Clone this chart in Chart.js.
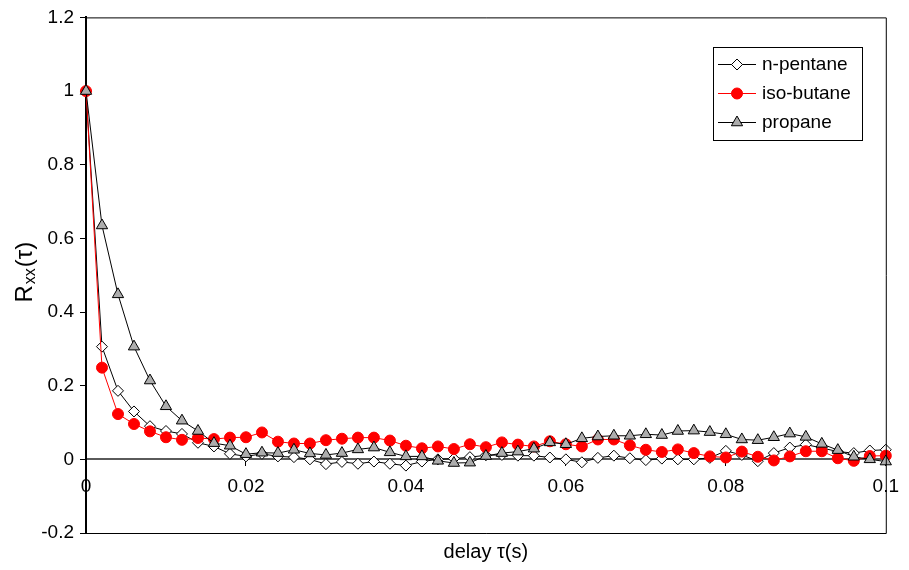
<!DOCTYPE html>
<html>
<head>
<meta charset="utf-8">
<script src="https://cdn.jsdelivr.net/npm/chart.js@4/dist/chart.umd.min.js"></script>
<style>
  html, body { margin: 0; padding: 0; background: #fff; }
  canvas { display: block; }
</style>
</head>
<body>
<canvas id="c" width="909" height="570"></canvas>
<script>
// Delay values (s)
const delays = [
  0, 0.002, 0.004, 0.006, 0.008, 0.010, 0.012, 0.014, 0.016, 0.018,
  0.020, 0.022, 0.024, 0.026, 0.028, 0.030, 0.032, 0.034, 0.036, 0.038,
  0.040, 0.042, 0.044, 0.046, 0.048, 0.050, 0.052, 0.054, 0.056, 0.058,
  0.060, 0.062, 0.064, 0.066, 0.068, 0.070, 0.072, 0.074, 0.076, 0.078,
  0.080, 0.082, 0.084, 0.086, 0.088, 0.090, 0.092, 0.094, 0.096, 0.098,
  0.100
];

// Autocorrelation R_xx(tau) for each fuel
const nPentane = [
  1, 0.306, 0.186, 0.130, 0.090, 0.077, 0.069, 0.045, 0.035, 0.015,
  0.008, 0.015, 0.008, 0.006, 0.000, -0.013, -0.007, -0.012, -0.006, -0.012,
  -0.017, -0.006, 0.000, 0.002, 0.006, 0.011, 0.012, 0.010, 0.010, 0.005,
  0.000, -0.008, 0.004, 0.010, 0.003, -0.002, 0.002, 0.000, 0.000, 0.004,
  0.023, 0.012, -0.005, 0.017, 0.032, 0.040, 0.031, 0.021, 0.017, 0.024,
  0.026
];
const isoButane = [
  1, 0.249, 0.123, 0.096, 0.076, 0.060, 0.053, 0.058, 0.055, 0.059,
  0.060, 0.073, 0.048, 0.043, 0.043, 0.052, 0.056, 0.059, 0.059, 0.051,
  0.037, 0.030, 0.035, 0.028, 0.041, 0.033, 0.046, 0.040, 0.035, 0.049,
  0.041, 0.035, 0.054, 0.054, 0.038, 0.026, 0.020, 0.027, 0.017, 0.008,
  0.005, 0.021, 0.007, -0.003, 0.008, 0.022, 0.022, 0.003, -0.004, 0.009,
  0.010
];
const propane = [
  1, 0.635, 0.448, 0.306, 0.214, 0.144, 0.105, 0.077, 0.044, 0.037,
  0.014, 0.018, 0.017, 0.026, 0.016, 0.012, 0.017, 0.027, 0.032, 0.019,
  0.008, 0.008, -0.004, -0.010, -0.009, 0.009, 0.017, 0.021, 0.029, 0.046,
  0.041, 0.057, 0.062, 0.064, 0.064, 0.068, 0.066, 0.077, 0.078, 0.074,
  0.068, 0.054, 0.052, 0.060, 0.070, 0.061, 0.042, 0.025, 0.007, 0.000,
  -0.006
];

const seriesNames = ['n-pentane', 'iso-butane', 'propane'];
const yTicks = [-0.2, 0, 0.2, 0.4, 0.6, 0.8, 1, 1.2];
const xTicks = [0, 0.02, 0.04, 0.06, 0.08, 0.1];

const FONT = "'Liberation Sans', Arial, sans-serif";
const pts = vals => delays.map((d, i) => ({ x: d, y: vals[i] }));

// Box around the plot area, y-axis title with subscript, and the legend box
const decorations = {
  id: 'decorations',
  afterDraw(chart) {
    const { ctx, chartArea: a } = chart;
    ctx.save();
    ctx.strokeStyle = '#000';
    ctx.lineWidth = 1;
    ctx.beginPath();
    ctx.moveTo(a.left, a.top + 0.5);
    ctx.lineTo(a.right + 0.5, a.top + 0.5);
    ctx.lineTo(a.right + 0.5, a.bottom + 0.5);
    ctx.lineTo(a.left, a.bottom + 0.5);
    ctx.stroke();

    // y title: R_xx(τ)
    ctx.save();
    ctx.translate(23, (a.top + a.bottom) / 2 - 3);
    ctx.rotate(-Math.PI / 2);
    ctx.fillStyle = '#000';
    ctx.textBaseline = 'alphabetic';
    ctx.textAlign = 'left';
    const big = '24px ' + FONT, small = '16px ' + FONT;
    ctx.font = big; const wR = ctx.measureText('R').width; const wT = ctx.measureText('(τ)').width;
    ctx.font = small; const wS = ctx.measureText('xx').width;
    let x0 = -(wR + wS + wT + 2) / 2;
    ctx.font = big; ctx.fillText('R', x0, 9);
    ctx.font = small; ctx.fillText('xx', x0 + wR + 1, 12);
    ctx.font = big; ctx.fillText('(τ)', x0 + wR + wS + 2, 9);
    ctx.restore();

    // legend
    const lx = 713, ly = 47, lw = 149, lh = 93;
    ctx.fillStyle = '#fff';
    ctx.fillRect(lx, ly, lw, lh);
    ctx.strokeStyle = '#000';
    ctx.strokeRect(lx + 0.5, ly + 0.5, lw, lh);
    chart.data.datasets.forEach((ds, i) => {
      const y = ly + 17 + i * 29;
      ctx.strokeStyle = ds.borderColor;
      ctx.lineWidth = 1;
      ctx.beginPath();
      ctx.moveTo(lx + 5, y + 0.5);
      ctx.lineTo(lx + 43, y + 0.5);
      ctx.stroke();
      ctx.fillStyle = ds.pointBackgroundColor;
      ctx.strokeStyle = ds.pointBorderColor;
      Chart.helpers.drawPoint(ctx, {
        pointStyle: ds.pointStyle, radius: ds.pointRadius,
        borderWidth: ds.pointBorderWidth, rotation: 0
      }, lx + 24, y + 0.5);
      ctx.fillStyle = '#000';
      ctx.font = '19px ' + FONT;
      ctx.textAlign = 'left';
      ctx.textBaseline = 'middle';
      ctx.fillText(seriesNames[i], lx + 49, y + 1);
    });
    ctx.restore();
  }
};

new Chart(document.getElementById('c'), {
  type: 'line',
  data: {
    datasets: [
      {
        label: seriesNames[0], data: pts(nPentane), order: 2,
        borderColor: '#000', borderWidth: 1,
        pointStyle: 'rectRot', pointRadius: 5.5, pointBorderWidth: 1,
        pointBackgroundColor: '#fff', pointBorderColor: '#000',
        xAxisID: 'x', yAxisID: 'y', clip: false
      },
      {
        label: seriesNames[1], data: pts(isoButane), order: 1,
        borderColor: '#ff0000', borderWidth: 1,
        pointStyle: 'circle', pointRadius: 5.5, pointBorderWidth: 1,
        pointBackgroundColor: '#ff0000', pointBorderColor: '#ff0000',
        xAxisID: 'x', yAxisID: 'y', clip: false
      },
      {
        label: seriesNames[2], data: pts(propane), order: 0,
        borderColor: '#000', borderWidth: 1,
        pointStyle: 'triangle', pointRadius: 6.5, pointBorderWidth: 1,
        pointBackgroundColor: '#adadad', pointBorderColor: '#000',
        xAxisID: 'x', yAxisID: 'y', clip: false
      }
    ]
  },
  options: {
    responsive: false,
    animation: false,
    devicePixelRatio: 1,
    layout: { padding: { top: 15, right: 13, left: 0, bottom: 0 } },
    plugins: { legend: { display: false }, tooltip: { enabled: false } },
    elements: { line: { tension: 0 } },
    scales: {
      x: {
        type: 'linear', position: 'bottom', min: 0, max: 0.1,
        afterFit: s => { s.height = 37; },
        ticks: { display: false },
        grid: { display: false },
        border: { display: false },
        title: {
          display: true, text: 'delay τ(s)', color: '#000',
          font: { family: FONT, size: 20 }, padding: { top: 0, bottom: 6 }
        }
      },
      x2: {
        type: 'linear', axis: 'x', position: { y: 0 }, min: 0, max: 0.1,
        afterBuildTicks: s => { s.ticks = xTicks.map(v => ({ value: v })); },
        ticks: {
          color: '#000', font: { family: FONT, size: 19 }, padding: 10,
          maxRotation: 0, autoSkip: false,
          callback: v => String(+v.toFixed(2))
        },
        grid: { drawOnChartArea: false, drawTicks: true, tickLength: 6, color: '#000' },
        border: { display: true, color: '#5a5a5a', width: 2 }
      },
      y: {
        type: 'linear', position: 'left', min: -0.2, max: 1.2,
        afterFit: s => { s.width = 86; },
        afterBuildTicks: s => { s.ticks = yTicks.map(v => ({ value: v })); },
        ticks: {
          color: '#000', font: { family: FONT, size: 19 }, padding: 6,
          callback: v => String(+v.toFixed(1))
        },
        grid: { drawOnChartArea: false, drawTicks: true, tickLength: 6, color: '#000' },
        border: { display: true, color: '#000', width: 2 }
      }
    }
  },
  plugins: [decorations]
});
</script>
</body>
</html>
